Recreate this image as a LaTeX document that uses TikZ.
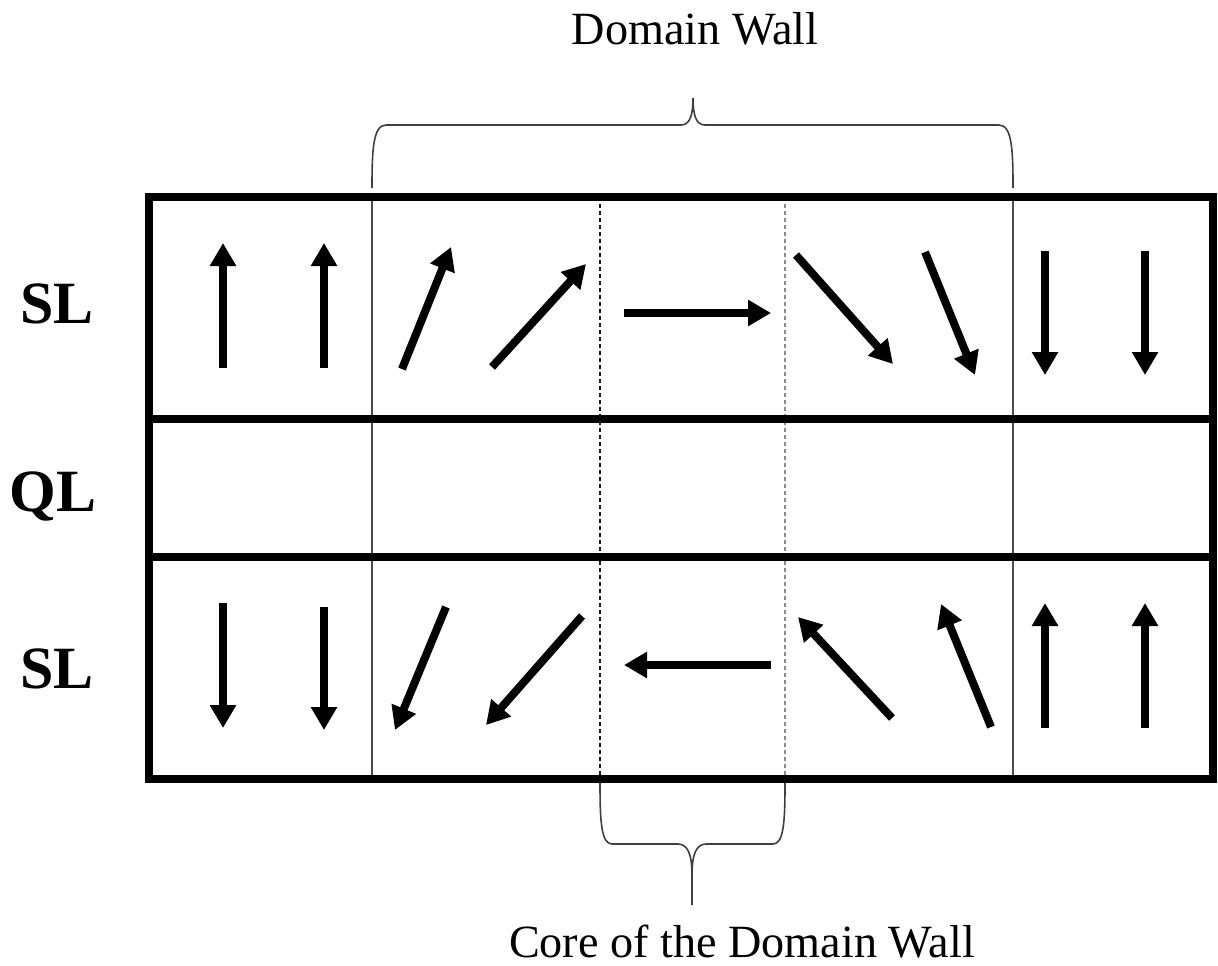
\documentclass[tikz,border=0pt]{standalone}
\usepackage{fontspec}
\setmainfont{Liberation Serif}
\usetikzlibrary{arrows.meta}
\tikzset{
  spin/.style={line width=4pt, -{Triangle[width=12.5pt,length=11.5pt]}},
  frame/.style={line width=3.6pt},
  thinsep/.style={line width=0.75pt, draw=black!70},
  coresep/.style={line width=0.75pt, dash pattern=on 2pt off 1.5pt},
  brace/.style={line width=0.8pt, draw=black!75},
  layer/.style={font=\fontsize{30}{36}\selectfont\bfseries, anchor=base},
  caption/.style={font=\fontsize{23.1}{28}\selectfont, anchor=base}
}
\begin{document}
\begin{tikzpicture}[x=0.5pt,y=-0.5pt]
\useasboundingbox (0,0) rectangle (1218,965);
% separators
\draw[thinsep] (372,197) -- (372,779);
\draw[thinsep] (1013,197) -- (1013,779);
\draw[coresep, draw=black!90] (600,197) -- (600,779);
\draw[coresep, draw=black!45] (785,197) -- (785,779);
% frame
\draw[frame] (149,197) rectangle (1213,779);
\draw[frame] (149,419) -- (1213,419);
\draw[frame] (149,557) -- (1213,557);
% layer labels
\node[layer] (sl1) at (57,323) {SL};
\node[layer] (ql) at (53,511) {QL};
\node[layer] (sl2) at (57,688) {SL};
% top SL spins
\draw[spin] (223,368) -- (223,243);
\draw[spin] (324,368) -- (324,243);
\draw[spin] (402,369) -- (451,247);
\draw[spin] (492,367) -- (586,264);
\draw[spin] (624,313) -- (771,313);
\draw[spin] (796,255) -- (893,364);
\draw[spin] (925,252) -- (975,375);
\draw[spin] (1045,251) -- (1045,375);
\draw[spin] (1145,251) -- (1145,375);
% bottom SL spins
\draw[spin] (223,603) -- (223,728);
\draw[spin] (324,607) -- (324,730);
\draw[spin] (446,607) -- (395,730);
\draw[spin] (582,616) -- (486,725);
\draw[spin] (771,665) -- (624,665);
\draw[spin] (892,718) -- (798,617);
\draw[spin] (991,727) -- (941,604);
\draw[spin] (1045,728) -- (1045,603);
\draw[spin] (1145,728) -- (1145,603);
% top brace
\draw[brace] (372,188) .. controls (372,150) and (373,125) .. (386,125)
  -- (681,125) .. controls (690,125) and (693,115) .. (693,98)
  .. controls (693,115) and (696,125) .. (705,125)
  -- (999,125) .. controls (1012,125) and (1013,150) .. (1013,188);
\node[caption] (dw) at (695,44) {Domain Wall};
% bottom brace
\draw[brace] (600,783) .. controls (600,820) and (601,844) .. (612,844)
  -- (678,844) .. controls (688,844) and (692,855) .. (692,875) -- (692,905);
\draw[brace] (692,875) .. controls (692,855) and (696,844) .. (706,844)
  -- (773,844) .. controls (784,844) and (785,820) .. (785,783);
\node[caption] (core) at (742,957) {Core of the Domain Wall};
\end{tikzpicture}
\end{document}
